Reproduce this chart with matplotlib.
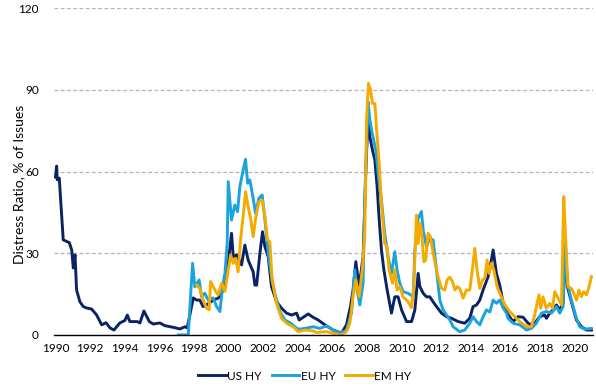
import matplotlib
matplotlib.use("Agg")
import matplotlib.pyplot as plt

# distress ratio, % of issues
us_years = [
    1990.00, 1990.07, 1990.10, 1990.22, 1990.45, 1990.80, 1990.94, 1991.03, 1991.13, 1991.22,
    1991.41, 1991.61, 1991.80, 1992.09, 1992.38, 1992.67, 1992.92, 1993.15, 1993.38, 1993.72,
    1994.01, 1994.15, 1994.30, 1994.72, 1994.88, 1995.11, 1995.42, 1995.65, 1996.03, 1996.32,
    1996.80, 1997.19, 1997.48, 1997.61, 1997.73, 1997.96, 1998.15, 1998.34, 1998.53, 1998.73,
    1999.11, 1999.40, 1999.60, 1999.88, 2000.08, 2000.17, 2000.27, 2000.46, 2000.61, 2000.75,
    2000.94, 2001.13, 2001.42, 2001.52, 2001.62, 2001.81, 2001.96, 2002.10, 2002.29, 2002.48,
    2002.77, 2003.06, 2003.35, 2003.64, 2003.93, 2004.08, 2004.60, 2004.88, 2005.17, 2005.56,
    2006.04, 2006.52, 2006.81, 2007.04, 2007.19, 2007.35, 2007.54, 2007.77, 2007.93, 2008.06,
    2008.16, 2008.31, 2008.45, 2008.58, 2008.70, 2008.83, 2008.97, 2009.16, 2009.41, 2009.60,
    2009.79, 2009.99, 2010.28, 2010.57, 2010.76, 2010.95, 2011.05, 2011.24, 2011.43, 2011.62,
    2011.81, 2012.01, 2012.30, 2012.59, 2012.88, 2013.26, 2013.64, 2013.93, 2014.12, 2014.32,
    2014.51, 2014.70, 2014.99, 2015.18, 2015.28, 2015.47, 2015.66, 2015.85, 2016.14, 2016.43,
    2016.72, 2017.01, 2017.30, 2017.49, 2017.68, 2017.97, 2018.26, 2018.36, 2018.55, 2018.74,
    2018.94, 2019.13, 2019.32, 2019.46, 2019.57, 2019.80, 2020.09, 2020.38, 2020.67, 2020.96,
]
us_hy = [
    58.0, 62.0, 57.0, 57.6, 34.9, 33.9, 31.2, 24.6, 29.4, 16.5,
    12.2, 10.4, 9.9, 9.5, 7.3, 3.7, 4.5, 2.6, 1.8, 4.4,
    5.3, 7.3, 4.9, 4.9, 4.4, 8.8, 4.9, 4.0, 4.4, 3.4,
    2.8, 2.2, 3.0, 2.6, 6.2, 13.6, 12.8, 12.8, 10.4, 11.0,
    12.8, 13.5, 15.3, 20.8, 32.4, 37.3, 28.7, 29.4, 27.5, 25.7,
    33.0, 27.5, 23.2, 18.3, 18.3, 30.0, 37.9, 32.4, 28.7, 17.7,
    12.2, 9.8, 8.0, 7.3, 8.0, 5.5, 7.7, 6.5, 5.5, 3.7,
    1.8, 0.6, 3.7, 10.4, 16.5, 26.9, 17.7, 28.7, 60.5, 81.3,
    72.8, 67.9, 64.2, 54.4, 42.2, 31.2, 23.9, 16.5, 8.0, 14.0,
    14.0, 9.2, 4.9, 4.9, 9.2, 22.6, 17.7, 15.3, 14.0, 14.0,
    12.2, 10.4, 8.0, 6.7, 6.1, 4.9, 4.3, 6.1, 10.4, 11.0,
    12.8, 16.5, 21.4, 27.5, 31.2, 22.6, 18.3, 12.0, 7.5, 4.9,
    6.7, 6.5, 4.3, 3.7, 4.3, 6.7, 7.3, 6.1, 8.0, 9.2,
    11.0, 9.2, 11.6, 32.4, 17.7, 12.2, 5.5, 3.0, 1.8, 1.8,
]

eu_years = [
    1997.09, 1997.67, 1997.92, 1998.05, 1998.30, 1998.44, 1998.63, 1998.82, 1999.11, 1999.31,
    1999.50, 1999.65, 1999.79, 1999.92, 1999.98, 2000.17, 2000.36, 2000.52, 2000.65, 2000.84,
    2000.98, 2001.10, 2001.23, 2001.42, 2001.56, 2001.75, 2001.94, 2002.10, 2002.29, 2002.48,
    2002.67, 2002.96, 2003.25, 2003.54, 2004.02, 2004.41, 2004.88, 2005.27, 2005.66, 2006.04,
    2006.43, 2006.81, 2007.10, 2007.29, 2007.42, 2007.58, 2007.77, 2007.87, 2008.06, 2008.16,
    2008.26, 2008.50, 2008.70, 2008.83, 2009.02, 2009.21, 2009.41, 2009.60, 2009.73, 2009.89,
    2010.08, 2010.37, 2010.66, 2010.76, 2010.95, 2011.14, 2011.24, 2011.43, 2011.62, 2011.81,
    2012.01, 2012.20, 2012.39, 2012.59, 2012.78, 2012.97, 2013.35, 2013.64, 2013.93, 2014.12,
    2014.32, 2014.51, 2014.70, 2014.90, 2015.09, 2015.28, 2015.47, 2015.66, 2015.85, 2016.05,
    2016.14, 2016.43, 2016.82, 2017.21, 2017.49, 2017.78, 2018.07, 2018.36, 2018.65, 2018.94,
    2019.13, 2019.32, 2019.43, 2019.57, 2019.80, 2020.09, 2020.28, 2020.57, 2020.96,
]
eu_hy = [
    0.0, 0.0, 26.3, 17.7, 20.2, 14.0, 15.3, 12.8, 13.6, 10.4,
    8.6, 17.7, 22.6, 33.6, 56.3, 42.2, 47.7, 45.3, 54.4, 60.5,
    64.5, 55.7, 56.9, 50.2, 44.7, 50.2, 51.4, 42.2, 30.0, 21.4,
    15.3, 8.6, 5.5, 4.5, 2.1, 2.4, 3.0, 2.4, 3.3, 1.8,
    0.6, 1.8, 8.0, 23.9, 16.5, 11.0, 19.0, 50.8, 85.6, 78.9,
    75.2, 67.9, 55.7, 49.5, 37.3, 28.7, 22.6, 30.6, 23.9, 19.0,
    15.9, 15.3, 14.0, 31.2, 42.8, 45.3, 38.5, 32.4, 35.5, 34.9,
    23.9, 12.8, 9.2, 7.3, 5.5, 3.0, 1.2, 1.8, 4.3, 6.7,
    4.9, 3.7, 6.7, 9.2, 8.4, 12.8, 11.6, 12.8, 10.0, 8.0,
    6.1, 4.3, 3.7, 1.8, 2.4, 4.3, 8.0, 8.6, 8.0, 10.4,
    8.0, 10.4, 33.0, 19.0, 12.8, 6.1, 3.0, 2.1, 2.4,
]

em_years = [
    1998.15, 1998.34, 1998.53, 1998.73, 1998.88, 1998.96, 1999.21, 1999.40, 1999.60, 1999.79,
    1999.98, 2000.12, 2000.27, 2000.40, 2000.55, 2000.71, 2000.84, 2000.98, 2001.13, 2001.29,
    2001.42, 2001.56, 2001.75, 2001.94, 2002.10, 2002.25, 2002.38, 2002.52, 2002.77, 2003.06,
    2003.35, 2003.73, 2004.02, 2004.41, 2004.88, 2005.08, 2005.66, 2006.04, 2006.52, 2006.81,
    2007.00, 2007.19, 2007.35, 2007.54, 2007.74, 2007.87, 2007.97, 2008.08, 2008.20, 2008.31,
    2008.45, 2008.55, 2008.70, 2008.83, 2009.02, 2009.16, 2009.27, 2009.47, 2009.60, 2009.73,
    2009.89, 2010.08, 2010.37, 2010.56, 2010.70, 2010.85, 2010.95, 2011.05, 2011.14, 2011.28,
    2011.39, 2011.52, 2011.66, 2011.78, 2011.91, 2012.10, 2012.30, 2012.49, 2012.62, 2012.78,
    2012.93, 2013.07, 2013.20, 2013.35, 2013.55, 2013.74, 2013.93, 2014.09, 2014.22, 2014.35,
    2014.51, 2014.67, 2014.80, 2014.93, 2015.05, 2015.18, 2015.32, 2015.51, 2015.76, 2015.95,
    2016.24, 2016.53, 2016.82, 2017.21, 2017.49, 2017.68, 2017.82, 2017.93, 2018.03, 2018.16,
    2018.36, 2018.55, 2018.71, 2018.84, 2019.03, 2019.23, 2019.36, 2019.47, 2019.61, 2019.80,
    2019.94, 2020.09, 2020.24, 2020.38, 2020.51, 2020.67, 2020.82, 2020.96,
]
em_hy = [
    18.3, 17.0, 12.8, 9.8, 9.2, 19.6, 16.5, 14.7, 19.0, 16.0,
    23.9, 29.4, 26.3, 28.1, 23.2, 36.1, 43.4, 52.6, 47.1, 42.2,
    36.1, 42.8, 48.9, 49.5, 43.4, 34.9, 34.2, 20.2, 11.6, 6.1,
    4.3, 3.0, 1.2, 1.8, 1.5, 0.9, 1.2, 0.6, 0.0, 1.2,
    4.3, 14.0, 20.2, 14.0, 25.1, 38.5, 78.9, 92.4, 89.9, 85.0,
    85.0, 75.2, 63.0, 48.3, 33.6, 32.4, 23.9, 19.0, 23.9, 16.5,
    17.7, 14.0, 12.2, 10.0, 17.7, 44.0, 33.6, 41.0, 38.5, 26.9,
    27.5, 37.3, 36.1, 31.2, 26.9, 21.4, 17.1, 16.5, 20.2, 21.2,
    19.6, 16.5, 17.7, 17.1, 13.5, 16.5, 16.5, 24.5, 31.8, 23.9,
    17.1, 20.2, 20.8, 27.5, 22.6, 26.3, 23.9, 17.7, 14.0, 11.0,
    8.6, 6.7, 4.9, 3.0, 3.0, 7.3, 11.6, 14.7, 9.8, 14.0,
    9.8, 11.6, 9.8, 15.9, 13.5, 11.0, 50.8, 34.9, 17.7, 17.1,
    15.3, 12.8, 16.5, 14.0, 15.9, 14.7, 17.7, 21.4,
]

year_ticks = list(range(1990, 2021, 2))
value_ticks = [0, 30, 60, 90, 120]

NAVY = "#0B2265"
LIGHT_BLUE = "#1AA3DC"
GOLD = "#F5AA00"

plt.rcParams["font.family"] = ["Lato", "DejaVu Sans"]

fig = plt.figure(figsize=(5.96, 3.89), dpi=100)
ax = fig.add_axes([0.091, 0.139, 0.904, 0.840])

ax.plot(us_years, us_hy, color=NAVY, lw=2.1, label="US HY", zorder=3)
ax.plot(eu_years, eu_hy, color=LIGHT_BLUE, lw=2.1, label="EU HY", zorder=4)
ax.plot(em_years, em_hy, color=GOLD, lw=2.1, label="EM HY", zorder=5)

ax.set_xlim(1989.93, 2021.05)
ax.set_ylim(0, 120)
ax.set_xticks(year_ticks)
ax.set_xticklabels([str(y) for y in year_ticks], fontsize=8.5)
ax.set_yticks(value_ticks)
ax.set_yticklabels([str(v) for v in value_ticks], fontsize=8.5)
ax.tick_params(axis="x", length=0, pad=6)
ax.tick_params(axis="y", length=0, pad=11)

ax.grid(axis="y", color="#B4B4B4", ls=(0, (3, 2)), lw=0.9)
ax.set_axisbelow(True)
for side in ("left", "right", "top"):
    ax.spines[side].set_visible(False)
ax.spines["bottom"].set_color("black")
ax.spines["bottom"].set_linewidth(1.0)
ax.spines["bottom"].set_zorder(6)

fig.text(19 / 596, 1 - 184 / 389, "Distress Ratio, % of Issues", rotation=90,
         ha="center", va="center", fontsize=10)

ax.legend(
    loc="center",
    bbox_to_anchor=(305 / 596, 1 - 376 / 389),
    bbox_transform=fig.transFigure,
    ncol=3,
    frameon=False,
    fontsize=8.5,
    handlelength=2.3,
    handletextpad=0.15,
    columnspacing=0.85,
)

fig.savefig("out.png", dpi=100)
